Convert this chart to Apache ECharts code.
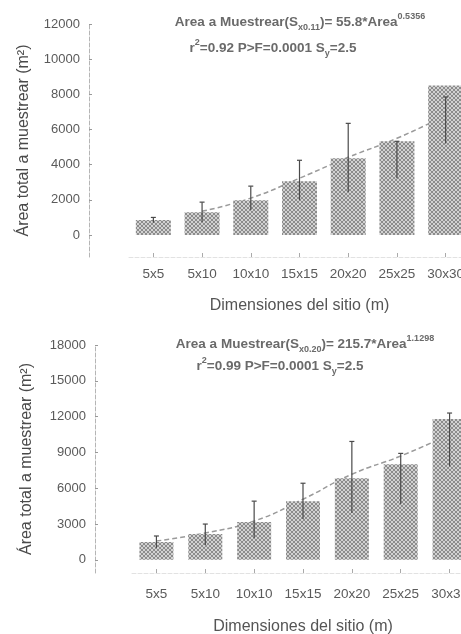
<!DOCTYPE html>
<html>
<head>
<meta charset="utf-8">
<script src="https://cdn.jsdelivr.net/npm/echarts@6/dist/echarts.min.js"></script>
<style>
  html, body { margin: 0; padding: 0; background: #fff; }
  #chart { width: 461px; height: 634px; }
</style>
</head>
<body>
<div id="chart"></div>
<script>
// Site sizes sampled
const categories = ['5x5', '5x10', '10x10', '15x15', '20x20', '25x25', '30x30'];

// Upper panel: total area to sample (m²)
const areaTop = [850, 1300, 1980, 3060, 4360, 5330, 8500];
const errLowTop = [700, 740, 1420, 1980, 2440, 3230, 5210];
const errHighTop = [1000, 1870, 2780, 4250, 6350, 5330, 7850];
const fitTop = ['-', 1350, 2100, 3230, 4420, 5500, 6800];
const yTicksTop = [0, 2000, 4000, 6000, 8000, 10000, 12000];

// Lower panel: total area to sample (m²)
const areaBottom = [1500, 2170, 3170, 4920, 6830, 8000, 11800];
const errLowBottom = [1000, 1250, 1830, 3420, 3920, 4670, 7830];
const errHighBottom = [2000, 3000, 4920, 6420, 9920, 8920, 12300];
const fitBottom = [1580, 2250, 3250, 5080, 7170, 8700, 10500];
const yTicksBottom = [0, 3000, 6000, 9000, 12000, 15000, 18000];

// Small cross-hatch tile used as the bar fill
function hatchTile() {
  const c = document.createElement('canvas');
  c.width = 4; c.height = 4;
  const g = c.getContext('2d');
  g.fillStyle = '#d2d2d2';
  g.fillRect(0, 0, 4, 4);
  g.fillStyle = '#8c8c8c';
  for (let i = 0; i < 4; i++) {
    g.fillRect(i, i, 1, 1);
    g.fillRect(3 - i, i, 1, 1);
  }
  return c;
}
const hatch = { image: hatchTile(), repeat: 'repeat' };

const FONT = 'Liberation Sans';

function errRender(params, api) {
  const x = api.value(0);
  const pLo = api.coord([x, api.value(1)]);
  const pHi = api.coord([x, api.value(2)]);
  const cap = 2.5;
  const st = { stroke: '#4a4a4a', lineWidth: 1.2 };
  return {
    type: 'group',
    children: [
      { type: 'line', shape: { x1: pLo[0], y1: pLo[1], x2: pHi[0], y2: pHi[1] }, style: st },
      { type: 'line', shape: { x1: pHi[0] - cap, y1: pHi[1], x2: pHi[0] + cap, y2: pHi[1] }, style: st }
    ]
  };
}

function yAxisCfg(gridIndex, min, max, ticks, offset, nameGap) {
  return {
    type: 'value', gridIndex, min, max, offset,
    name: 'Área total a muestrear (m²)',
    nameLocation: 'middle', nameGap,
    nameTextStyle: { fontFamily: FONT, fontSize: 16, color: '#4a4a4a' },
    axisLine: { show: true, lineStyle: { color: '#b5b5b5', width: 1, type: 'dashed' } },
    axisTick: { show: true, inside: true, length: 3, customValues: ticks, lineStyle: { color: '#999' } },
    axisLabel: {
      customValues: ticks, fontFamily: FONT, fontSize: 13, color: '#5a5a5a', margin: 9,
      formatter: v => String(v)
    },
    splitLine: { show: false }
  };
}

function xAxisCfg(gridIndex, margin, nameGap) {
  return {
    type: 'category', gridIndex, data: categories,
    position: 'bottom',
    name: 'Dimensiones del sitio (m)',
    nameLocation: 'middle', nameGap,
    nameTextStyle: { fontFamily: FONT, fontSize: 16, color: '#555' },
    axisLine: { show: true, onZero: false, lineStyle: { color: '#e2e2e2', type: 'dashed' } },
    axisTick: { show: true, alignWithLabel: true, inside: true, length: 4, lineStyle: { color: '#aaa' } },
    axisLabel: { fontFamily: FONT, fontSize: 13.5, color: '#5a5a5a', margin }
  };
}

const richText = {
  a: { fontFamily: FONT, fontSize: 13.5, fontWeight: 'bold', color: '#6a6a6a', lineHeight: 20, verticalAlign: 'middle' },
  sub: { fontFamily: FONT, fontSize: 9, fontWeight: 'bold', color: '#6a6a6a', lineHeight: 20, verticalAlign: 'bottom' },
  sup: { fontFamily: FONT, fontSize: 9, fontWeight: 'bold', color: '#6a6a6a', lineHeight: 20, verticalAlign: 'top' }
};

function label(x, y, text) {
  return {
    type: 'text', x, y,
    style: { text, rich: richText, align: 'center', verticalAlign: 'middle', fill: '#6a6a6a' }
  };
}

const chart = echarts.init(document.getElementById('chart'), null, { renderer: 'canvas' });

chart.setOption({
  animation: false,
  backgroundColor: '#fff',
  grid: [
    { left: 129, top: 24, width: 341, height: 233, outerBoundsMode: 'none' },
    { left: 132, top: 345, width: 342, height: 228, outerBoundsMode: 'none' }
  ],
  xAxis: [xAxisCfg(0, 10, 41), xAxisCfg(1, 14, 46)],
  yAxis: [
    yAxisCfg(0, -1250, 12000, yTicksTop, 40, 57),
    yAxisCfg(1, -1100, 18000, yTicksBottom, 37, 60)
  ],
  graphic: [
    label(300, 22, '{a|Area a Muestrear(S}{sub|x0.11}{a|)= 55.8*Area}{sup|0.5356}'),
    label(273, 48, '{a|r}{sup|2}{a|=0.92 P>F=0.0001 S}{sub|y}{a|=2.5}'),
    label(305, 344, '{a|Area a Muestrear(S}{sub|x0.20}{a|)= 215.7*Area}{sup|1.1298}'),
    label(280, 366, '{a|r}{sup|2}{a|=0.99 P>F=0.0001 S}{sub|y}{a|=2.5}')
  ],
  series: [
    {
      type: 'line', xAxisIndex: 0, yAxisIndex: 0, data: fitTop, smooth: true,
      showSymbol: false, z: 1,
      lineStyle: { color: '#9a9a9a', width: 1.5, type: [5, 3] }
    },
    {
      type: 'bar', xAxisIndex: 0, yAxisIndex: 0, data: areaTop, barWidth: 35, z: 2,
      itemStyle: { color: hatch }
    },
    {
      type: 'custom', xAxisIndex: 0, yAxisIndex: 0, z: 3,
      data: categories.map((c, i) => [i, errLowTop[i], errHighTop[i]]),
      renderItem: errRender
    },
    {
      type: 'line', xAxisIndex: 1, yAxisIndex: 1, data: fitBottom, smooth: true,
      showSymbol: false, z: 1,
      lineStyle: { color: '#9a9a9a', width: 1.5, type: [5, 3] }
    },
    {
      type: 'bar', xAxisIndex: 1, yAxisIndex: 1, data: areaBottom, barWidth: 34, z: 2,
      itemStyle: { color: hatch }
    },
    {
      type: 'custom', xAxisIndex: 1, yAxisIndex: 1, z: 3,
      data: categories.map((c, i) => [i, errLowBottom[i], errHighBottom[i]]),
      renderItem: errRender
    }
  ]
});
</script>
</body>
</html>
